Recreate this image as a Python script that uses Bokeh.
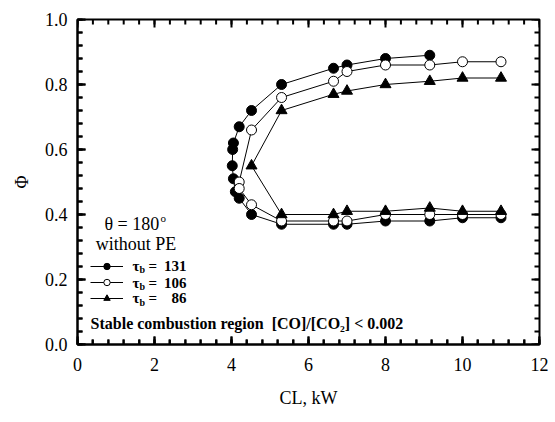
from bokeh.plotting import figure
from bokeh.models import FixedTicker, Range1d, Label, Legend, LegendItem
from bokeh.embed import file_html
from bokeh.resources import INLINE

# ---- data (CL in kW, Phi) ----
cl_131 = [9.15, 8.0, 7.0, 6.65, 5.3, 4.52, 4.2, 4.05, 4.03, 4.02, 4.05, 4.1, 4.2, 4.52,
          5.3, 6.65, 7.0, 8.0, 9.15, 10.0, 11.0]
phi_131 = [0.89, 0.88, 0.86, 0.85, 0.80, 0.72, 0.67, 0.62, 0.60, 0.55, 0.51, 0.47, 0.45, 0.40,
           0.37, 0.37, 0.37, 0.38, 0.38, 0.39, 0.39]

cl_106 = [11.0, 10.0, 9.15, 8.0, 7.0, 6.65, 5.3, 4.52, 4.2, 4.2, 4.52,
          5.3, 6.65, 7.0, 8.0, 9.15, 10.0, 11.0]
phi_106 = [0.87, 0.87, 0.86, 0.86, 0.84, 0.81, 0.76, 0.66, 0.50, 0.48, 0.43,
           0.38, 0.38, 0.38, 0.40, 0.40, 0.40, 0.40]

cl_86 = [11.0, 10.0, 9.15, 8.0, 7.0, 6.65, 5.3, 4.52,
         5.3, 6.65, 7.0, 8.0, 9.15, 10.0, 11.0]
phi_86 = [0.82, 0.82, 0.81, 0.80, 0.78, 0.77, 0.72, 0.55,
          0.40, 0.40, 0.41, 0.41, 0.42, 0.41, 0.41]

x_major = [0, 2, 4, 6, 8, 10, 12]
y_major = [0.0, 0.2, 0.4, 0.6, 0.8, 1.0]
x_minor = [round(i * 0.4, 2) for i in range(31)]
y_minor = [round(i * 0.04, 2) for i in range(26)]
x_labels = {0: "0", 2: "2", 4: "4", 6: "6", 8: "8", 10: "10", 12: "12"}
y_labels = {0: "0.0", 0.2: "0.2", 0.4: "0.4", 0.6: "0.6", 0.8: "0.8", 1: "1.0"}

FONT = "Liberation Serif"
FW, FH = 462, 325
XMIN, XMAX, YMIN, YMAX = 0, 12, 0, 1.0

p = figure(frame_width=FW, frame_height=FH, output_backend="svg", toolbar_location=None,
           x_range=Range1d(XMIN, XMAX), y_range=Range1d(YMIN, YMAX),
           min_border_left=77, min_border_right=16, min_border_top=19, min_border_bottom=78)
p.xgrid.visible = False
p.ygrid.visible = False
p.outline_line_color = "black"
p.outline_line_width = 2

for ax, ticks, minor, labels in [(p.xaxis[0], x_major, x_minor, x_labels),
                                 (p.yaxis[0], y_major, y_minor, y_labels)]:
    ax.ticker = FixedTicker(ticks=ticks, minor_ticks=minor)
    ax.major_label_overrides = labels
    ax.axis_line_width = 2
    ax.axis_line_color = "black"
    ax.major_tick_in = 8
    ax.major_tick_out = 0
    ax.minor_tick_in = 5
    ax.minor_tick_out = 0
    ax.major_tick_line_color = "black"
    ax.minor_tick_line_color = "black"
    ax.major_tick_line_width = 2
    ax.minor_tick_line_width = 2
    ax.major_label_text_font = FONT
    ax.major_label_text_font_size = "18px"
    ax.major_label_text_color = "black"
    ax.axis_label_text_font = FONT
    ax.axis_label_text_font_size = "18px"
    ax.axis_label_text_font_style = "normal"
    ax.axis_label_text_color = "black"

p.xaxis[0].axis_label = "CL, kW"
p.yaxis[0].axis_label = "Φ"
p.xaxis[0].major_label_standoff = 13
p.xaxis[0].axis_label_standoff = 14
p.yaxis[0].major_label_standoff = 10
p.yaxis[0].axis_label_standoff = 10

# ---- inward ticks on all four sides, built from the tick lists ----
def frame_ticks(xt, yt, length):
    dx = length * (XMAX - XMIN) / FW
    dy = length * (YMAX - YMIN) / FH
    xs, ys = [], []
    for t in xt:
        xs += [[t, t], [t, t]]
        ys += [[YMIN, YMIN + dy], [YMAX, YMAX - dy]]
    for t in yt:
        xs += [[XMIN, XMIN + dx], [XMAX, XMAX - dx]]
        ys += [[t, t], [t, t]]
    p.multi_line(xs=xs, ys=ys, line_color="black", line_width=2)

frame_ticks(x_minor, y_minor, 5)
frame_ticks(x_major, y_major, 8)

# ---- series ----
l1 = p.line(x=cl_131, y=phi_131, line_color="black", line_width=1)
s1 = p.scatter(x=cl_131, y=phi_131, marker="circle", size=10, fill_color="black", line_color="black")
l2 = p.line(x=cl_106, y=phi_106, line_color="black", line_width=1)
s2 = p.scatter(x=cl_106, y=phi_106, marker="circle", size=10, fill_color="white", line_color="black")
l3 = p.line(x=cl_86, y=phi_86, line_color="black", line_width=1)
s3 = p.scatter(x=cl_86, y=phi_86, marker="triangle", size=11, fill_color="black", line_color="black")

legend = Legend(items=[LegendItem(label=" ", renderers=[l1, s1]),
                       LegendItem(label=" ", renderers=[l2, s2]),
                       LegendItem(label=" ", renderers=[l3, s3])],
                location=(13, 38), glyph_width=33, glyph_height=16, label_height=16,
                label_width=0, label_standoff=0, spacing=0, padding=0, margin=0,
                border_line_color=None, background_fill_alpha=0,
                label_text_font_size="1px")
p.add_layout(legend)

def lab(text, x, y, size="15px", style="bold", xo=0, yo=0, align="left"):
    p.add_layout(Label(x=x, y=y, text=text, x_offset=xo, y_offset=yo,
                       text_font=FONT, text_font_size=size, text_font_style=style,
                       text_color="black", text_align=align, text_baseline="middle"))

for yy, num in [(0.243, "131"), (0.19, "106"), (0.142, "86")]:
    lab("τ", 1.43, yy)
    lab("b", 1.43, yy, size="10px", xo=7, yo=-4)
    lab("=", 1.43, yy, xo=16)
    lab(num, 1.43, yy, xo=54, align="right")

lab("θ = 180", 0.70, 0.372, size="18px", style="normal")
lab("o", 0.70, 0.372, size="11px", style="normal", xo=56, yo=6)
lab("without PE", 1.52, 0.31, size="18px", style="normal", align="center")
lab("Stable combustion region\u00a0 [CO]/[CO₂] < 0.002", 0.34, 0.065, size="16px")

open("out.html", "w").write(file_html(p, INLINE))
